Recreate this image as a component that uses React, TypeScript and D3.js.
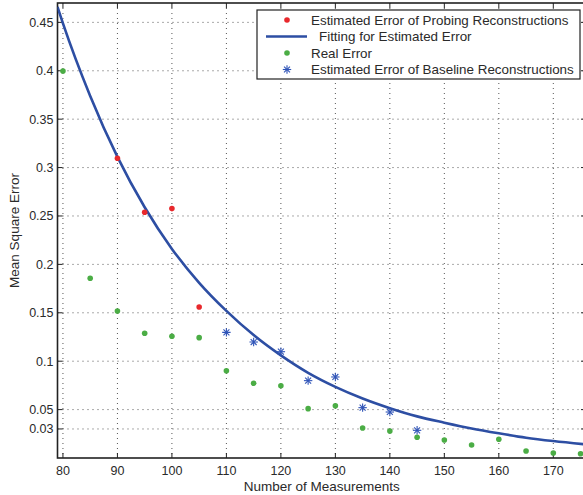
import React from "react";
import * as d3 from "d3";

const probingX = [90, 95, 100, 105];
const probingY = [0.3096, 0.2538, 0.2576, 0.156];

const realX = [80, 85, 90, 95, 100, 105, 110, 115, 120, 125, 130, 135, 140, 145, 150, 155, 160, 165, 170, 175];
const realY = [0.3998, 0.1856, 0.1519, 0.1288, 0.1257, 0.1243, 0.0902, 0.0772, 0.0747, 0.051, 0.054, 0.031, 0.0279, 0.0214, 0.0186, 0.0134, 0.0193, 0.0072, 0.0052, 0.0044];

const baselineX = [110, 115, 120, 125, 130, 135, 140, 145];
const baselineY = [0.1298, 0.1198, 0.1098, 0.0799, 0.0837, 0.052, 0.0475, 0.0286];

const fitX = [79, 80, 85, 90, 95, 100, 105, 110, 115, 120, 125, 130, 135, 140, 145, 150, 155, 160, 165, 170, 176];
const fitY = [0.466, 0.449, 0.374, 0.311, 0.259, 0.216, 0.181, 0.152, 0.127, 0.106, 0.088, 0.0735, 0.0615, 0.0515, 0.043, 0.0365, 0.0305, 0.0255, 0.021, 0.0175, 0.014];

const xTicks = [80, 90, 100, 110, 120, 130, 140, 150, 160, 170];
const yTicks = [0.03, 0.05, 0.1, 0.15, 0.2, 0.25, 0.3, 0.35, 0.4, 0.45];
const yTickLabels = ["0.03", "0.05", "0.1", "0.15", "0.2", "0.25", "0.3", "0.35", "0.4", "0.45"];

const legendLabels = [
  "Estimated Error of Probing Reconstructions",
  "Fitting for Estimated Error",
  "Real Error",
  "Estimated Error of Baseline Reconstructions",
];

const W = 583;
const H = 495;
const L = 57.5, R = 586, T = 3, B = 458;

const RED = "#e8282c";
const GREEN = "#4bad45";
const BLUE = "#2d4ea3";
const STAR = "#2f54b8";
const FONT = "Liberation Sans, Arial, Helvetica, sans-serif";
const TXT = "#2a2a2a";

function Star({ cx, cy, s = 4.2 }: { cx: number; cy: number; s?: number }) {
  const d = s * 0.7071;
  return (
    <g stroke={STAR} strokeWidth={1.1}>
      <line x1={cx - s} y1={cy} x2={cx + s} y2={cy} />
      <line x1={cx} y1={cy - s} x2={cx} y2={cy + s} />
      <line x1={cx - d} y1={cy - d} x2={cx + d} y2={cy + d} />
      <line x1={cx - d} y1={cy + d} x2={cx + d} y2={cy - d} />
    </g>
  );
}

export default function App() {
  const x = d3.scaleLinear().domain([79, 176]).range([L, R]);
  const y = d3.scaleLinear().domain([0, 0.47]).range([B, T]);
  const line = d3
    .line<number>()
    .x((_, i) => x(fitX[i]))
    .y((d) => y(d))
    .curve(d3.curveMonotoneX);
  const tl = 5;
  const lx = 257, ly = 10, lw = 323, lh = 69;
  const rows = [20, 36.5, 53, 69.5];

  return (
    <svg
      width={W}
      height={H}
      style={{ position: "absolute", left: 0, top: 0, display: "block", background: "#fff" }}
    >
      <defs>
        <clipPath id="plot">
          <rect x={L} y={T} width={R - L} height={B - T} />
        </clipPath>
      </defs>
      <rect x={0} y={0} width={W} height={H} fill="#fff" />
      {/* grid */}
      <g stroke="#555" strokeWidth={1} strokeDasharray="1,4">
        {xTicks.map((t) => (
          <line key={"gx" + t} x1={x(t)} x2={x(t)} y1={T} y2={B} />
        ))}
        {yTicks.map((t) => (
          <line key={"gy" + t} x1={L} x2={R} y1={y(t)} y2={y(t)} />
        ))}
      </g>
      {/* ticks */}
      <g stroke="#222" strokeWidth={1}>
        {xTicks.map((t) => (
          <g key={"tx" + t}>
            <line x1={x(t)} x2={x(t)} y1={B} y2={B - tl} />
            <line x1={x(t)} x2={x(t)} y1={T} y2={T + tl} />
          </g>
        ))}
        {yTicks.map((t) => (
          <g key={"ty" + t}>
            <line x1={L} x2={L + tl} y1={y(t)} y2={y(t)} />
            <line x1={R} x2={R - tl} y1={y(t)} y2={y(t)} />
          </g>
        ))}
      </g>
      {/* axes box */}
      <rect x={L} y={T} width={R - L} height={B - T} fill="none" stroke="#222" strokeWidth={1.6} />
      {/* tick labels */}
      <g fontFamily={FONT} fontSize={12.5} fill={TXT}>
        {xTicks.map((t) => (
          <text key={"lx" + t} x={x(t)} y={474.5} textAnchor="middle">
            {t}
          </text>
        ))}
        {yTicks.map((t, i) => (
          <text key={"ly" + t} x={53.5} y={y(t) + 4.5} textAnchor="end">
            {yTickLabels[i]}
          </text>
        ))}
      </g>
      <text x={(L + R) / 2} y={491} textAnchor="middle" fontFamily={FONT} fontSize={13.5} fill={TXT}>
        Number of Measurements
      </text>
      <text
        transform={`translate(19,${(T + B) / 2}) rotate(-90)`}
        textAnchor="middle"
        fontFamily={FONT}
        fontSize={13.5}
        fill={TXT}
      >
        Mean Square Error
      </text>
      {/* data */}
      <g clipPath="url(#plot)">
        <path d={line(fitY) || ""} fill="none" stroke={BLUE} strokeWidth={2.6} />
        {realY.map((v, i) => (
          <circle key={"g" + i} cx={x(realX[i])} cy={y(v)} r={2.8} fill={GREEN} />
        ))}
        {probingY.map((v, i) => (
          <circle key={"r" + i} cx={x(probingX[i])} cy={y(v)} r={2.8} fill={RED} />
        ))}
        {baselineY.map((v, i) => (
          <Star key={"s" + i} cx={x(baselineX[i])} cy={y(v)} />
        ))}
      </g>
      {/* legend */}
      <rect x={lx} y={ly} width={lw} height={lh} fill="#fff" stroke="#222" strokeWidth={1.2} />
      <circle cx={287} cy={rows[0]} r={2.8} fill={RED} />
      <line x1={266} x2={307} y1={rows[1]} y2={rows[1]} stroke={BLUE} strokeWidth={2.6} />
      <circle cx={287} cy={rows[2]} r={2.8} fill={GREEN} />
      <Star cx={287} cy={rows[3]} />
      <g fontFamily={FONT} fontSize={13.4} fill={TXT}>
        <text x={311} y={rows[0] + 4.8}>{legendLabels[0]}</text>
        <text x={319} y={rows[1] + 4.8}>{legendLabels[1]}</text>
        <text x={311} y={rows[2] + 4.8}>{legendLabels[2]}</text>
        <text x={311} y={rows[3] + 4.8}>{legendLabels[3]}</text>
      </g>
    </svg>
  );
}
